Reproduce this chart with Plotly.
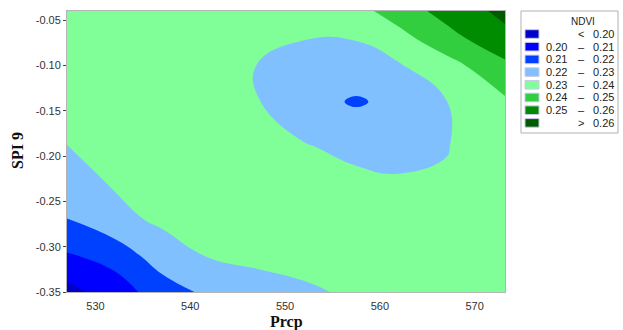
import plotly.graph_objects as go

# ---- data ----
prcp = [527, 532, 537, 542, 547, 552, 557.5, 562, 567, 573.5]
spi9 = [-0.35, -0.31, -0.27, -0.23, -0.19, -0.14, -0.10, -0.07, -0.04]
ndvi = [
    [0.1962, 0.2055, 0.2145, 0.2225, 0.2255, 0.2288, 0.2312, 0.2318, 0.2322, 0.2330],
    [0.2090, 0.2133, 0.2256, 0.2305, 0.2325, 0.2327, 0.2328, 0.2327, 0.2328, 0.2335],
    [0.2198, 0.2275, 0.2315, 0.2322, 0.2325, 0.2322, 0.2322, 0.2320, 0.2320, 0.2335],
    [0.2265, 0.2307, 0.2322, 0.2322, 0.2318, 0.2315, 0.2325, 0.2316, 0.2310, 0.2345],
    [0.2298, 0.2318, 0.2322, 0.2318, 0.2313, 0.2308, 0.2273, 0.2255, 0.2296, 0.2365],
    [0.2345, 0.2337, 0.2328, 0.2317, 0.2306, 0.2235, 0.2190, 0.2225, 0.2298, 0.2392],
    [0.2350, 0.2343, 0.2335, 0.2322, 0.2299, 0.2263, 0.2255, 0.2292, 0.2362, 0.2485],
    [0.2355, 0.2350, 0.2343, 0.2333, 0.2315, 0.2303, 0.2305, 0.2365, 0.2465, 0.2575],
    [0.2360, 0.2355, 0.2350, 0.2340, 0.2325, 0.2325, 0.2365, 0.2449, 0.2534, 0.2631],
]
levels = [0.20, 0.21, 0.22, 0.23, 0.24, 0.25, 0.26]
band_colors = ["#0000c8", "#0000ff", "#0040ff", "#80c0ff",
               "#80ff98", "#33cd40", "#008c00", "#005a00"]
legend_left = ["", "0.20", "0.21", "0.22", "0.23", "0.24", "0.25", ""]
legend_mid = ["<", "\u2013", "\u2013", "\u2013", "\u2013", "\u2013", "\u2013", ">"]
legend_right = ["0.20", "0.21", "0.22", "0.23", "0.24", "0.25", "0.26", "0.26"]
x_ticks = [530, 540, 550, 560, 570]
y_ticks = [-0.05, -0.10, -0.15, -0.20, -0.25, -0.30, -0.35]
y_ticktext = ["-0.05", "-0.10", "-0.15", "-0.20", "-0.25", "-0.30", "-0.35"]
x_title = "Prcp"
y_title = "SPI 9"

# discrete colour scale, one bin per band
nb = len(band_colors)
cs = []
for i, c in enumerate(band_colors):
    cs.append([i / nb, c])
    cs.append([(i + 1) / nb, c])

fig = go.Figure(go.Contour(
    x=prcp, y=spi9, z=ndvi,
    colorscale=cs, zmin=levels[0] - 0.01, zmax=levels[-1] + 0.01,
    contours=dict(start=levels[0], end=levels[-1], size=0.01, coloring="fill", showlines=False),
    line=dict(width=0, smoothing=1.3),
    showscale=False, hoverinfo="skip",
))

L, R, T, B = 67, 505, 11, 292
W, H = 623, 330
pw, ph = R - L, B - T

def px(xp):
    return (xp - L) / pw

def py(yp):
    return (B - yp) / ph

shapes = []
annotations = []
# axis titles
annotations.append(dict(xref="paper", yref="paper", x=px(286), y=py(322), text="<b>%s</b>" % x_title,
                        showarrow=False, xanchor="center", yanchor="middle",
                        font=dict(family="Liberation Serif", size=16, color="#111")))
annotations.append(dict(xref="paper", yref="paper", x=px(17), y=py(151), text="<b>%s</b>" % y_title,
                        showarrow=False, xanchor="center", yanchor="middle", textangle=-90,
                        font=dict(family="Liberation Serif", size=16, color="#111")))
# legend box
shapes.append(dict(type="rect", xref="paper", yref="paper",
                   x0=px(521), x1=px(618), y0=py(11), y1=py(133),
                   line=dict(color="#b0b0b0", width=1), fillcolor="white", layer="above"))
annotations.append(dict(xref="paper", yref="paper", x=px(583), y=py(21), text="NDVI",
                        showarrow=False, xanchor="center", yanchor="middle",
                        font=dict(family="Liberation Sans", size=10, color="#222")))
for i, c in enumerate(band_colors):
    yc = 34 + i * 12.7
    shapes.append(dict(type="rect", xref="paper", yref="paper",
                       x0=px(525), x1=px(539), y0=py(yc - 4.3), y1=py(yc + 4.3),
                       line=dict(color="#c8c8e8", width=1), fillcolor=c, layer="above"))
    f = dict(family="Liberation Sans", size=11, color="#222")
    if legend_left[i]:
        annotations.append(dict(xref="paper", yref="paper", x=px(569), y=py(yc),
                                text=legend_left[i], showarrow=False, xanchor="right",
                                yanchor="middle", font=f))
    annotations.append(dict(xref="paper", yref="paper", x=px(581), y=py(yc),
                            text=legend_mid[i], showarrow=False, xanchor="center",
                            yanchor="middle", font=f))
    annotations.append(dict(xref="paper", yref="paper", x=px(591), y=py(yc),
                            text=legend_right[i], showarrow=False, xanchor="left",
                            yanchor="middle", font=f))

fig.update_layout(
    width=W, height=H,
    margin=dict(l=L, r=W - R, t=T, b=H - B, autoexpand=False),
    paper_bgcolor="white", plot_bgcolor="white",
    shapes=shapes, annotations=annotations,
    xaxis=dict(range=[527, 573.2], tickvals=x_ticks, showgrid=False, zeroline=False,
               automargin=False,
               showline=True, mirror=True, linecolor="#b4b4b4", linewidth=1,
               ticks="outside", ticklen=4, tickcolor="rgba(0,0,0,0)",
               tickfont=dict(family="Liberation Sans", size=11, color="#333")),
    yaxis=dict(range=[-0.35, -0.04], tickvals=y_ticks, ticktext=y_ticktext,
               showgrid=False, zeroline=False, automargin=False,
               showline=True, mirror=True, linecolor="#b4b4b4", linewidth=1,
               ticks="outside", ticklen=3, tickcolor="#444",
               tickfont=dict(family="Liberation Sans", size=11, color="#333")),
)

fig.write_html("out.html")
